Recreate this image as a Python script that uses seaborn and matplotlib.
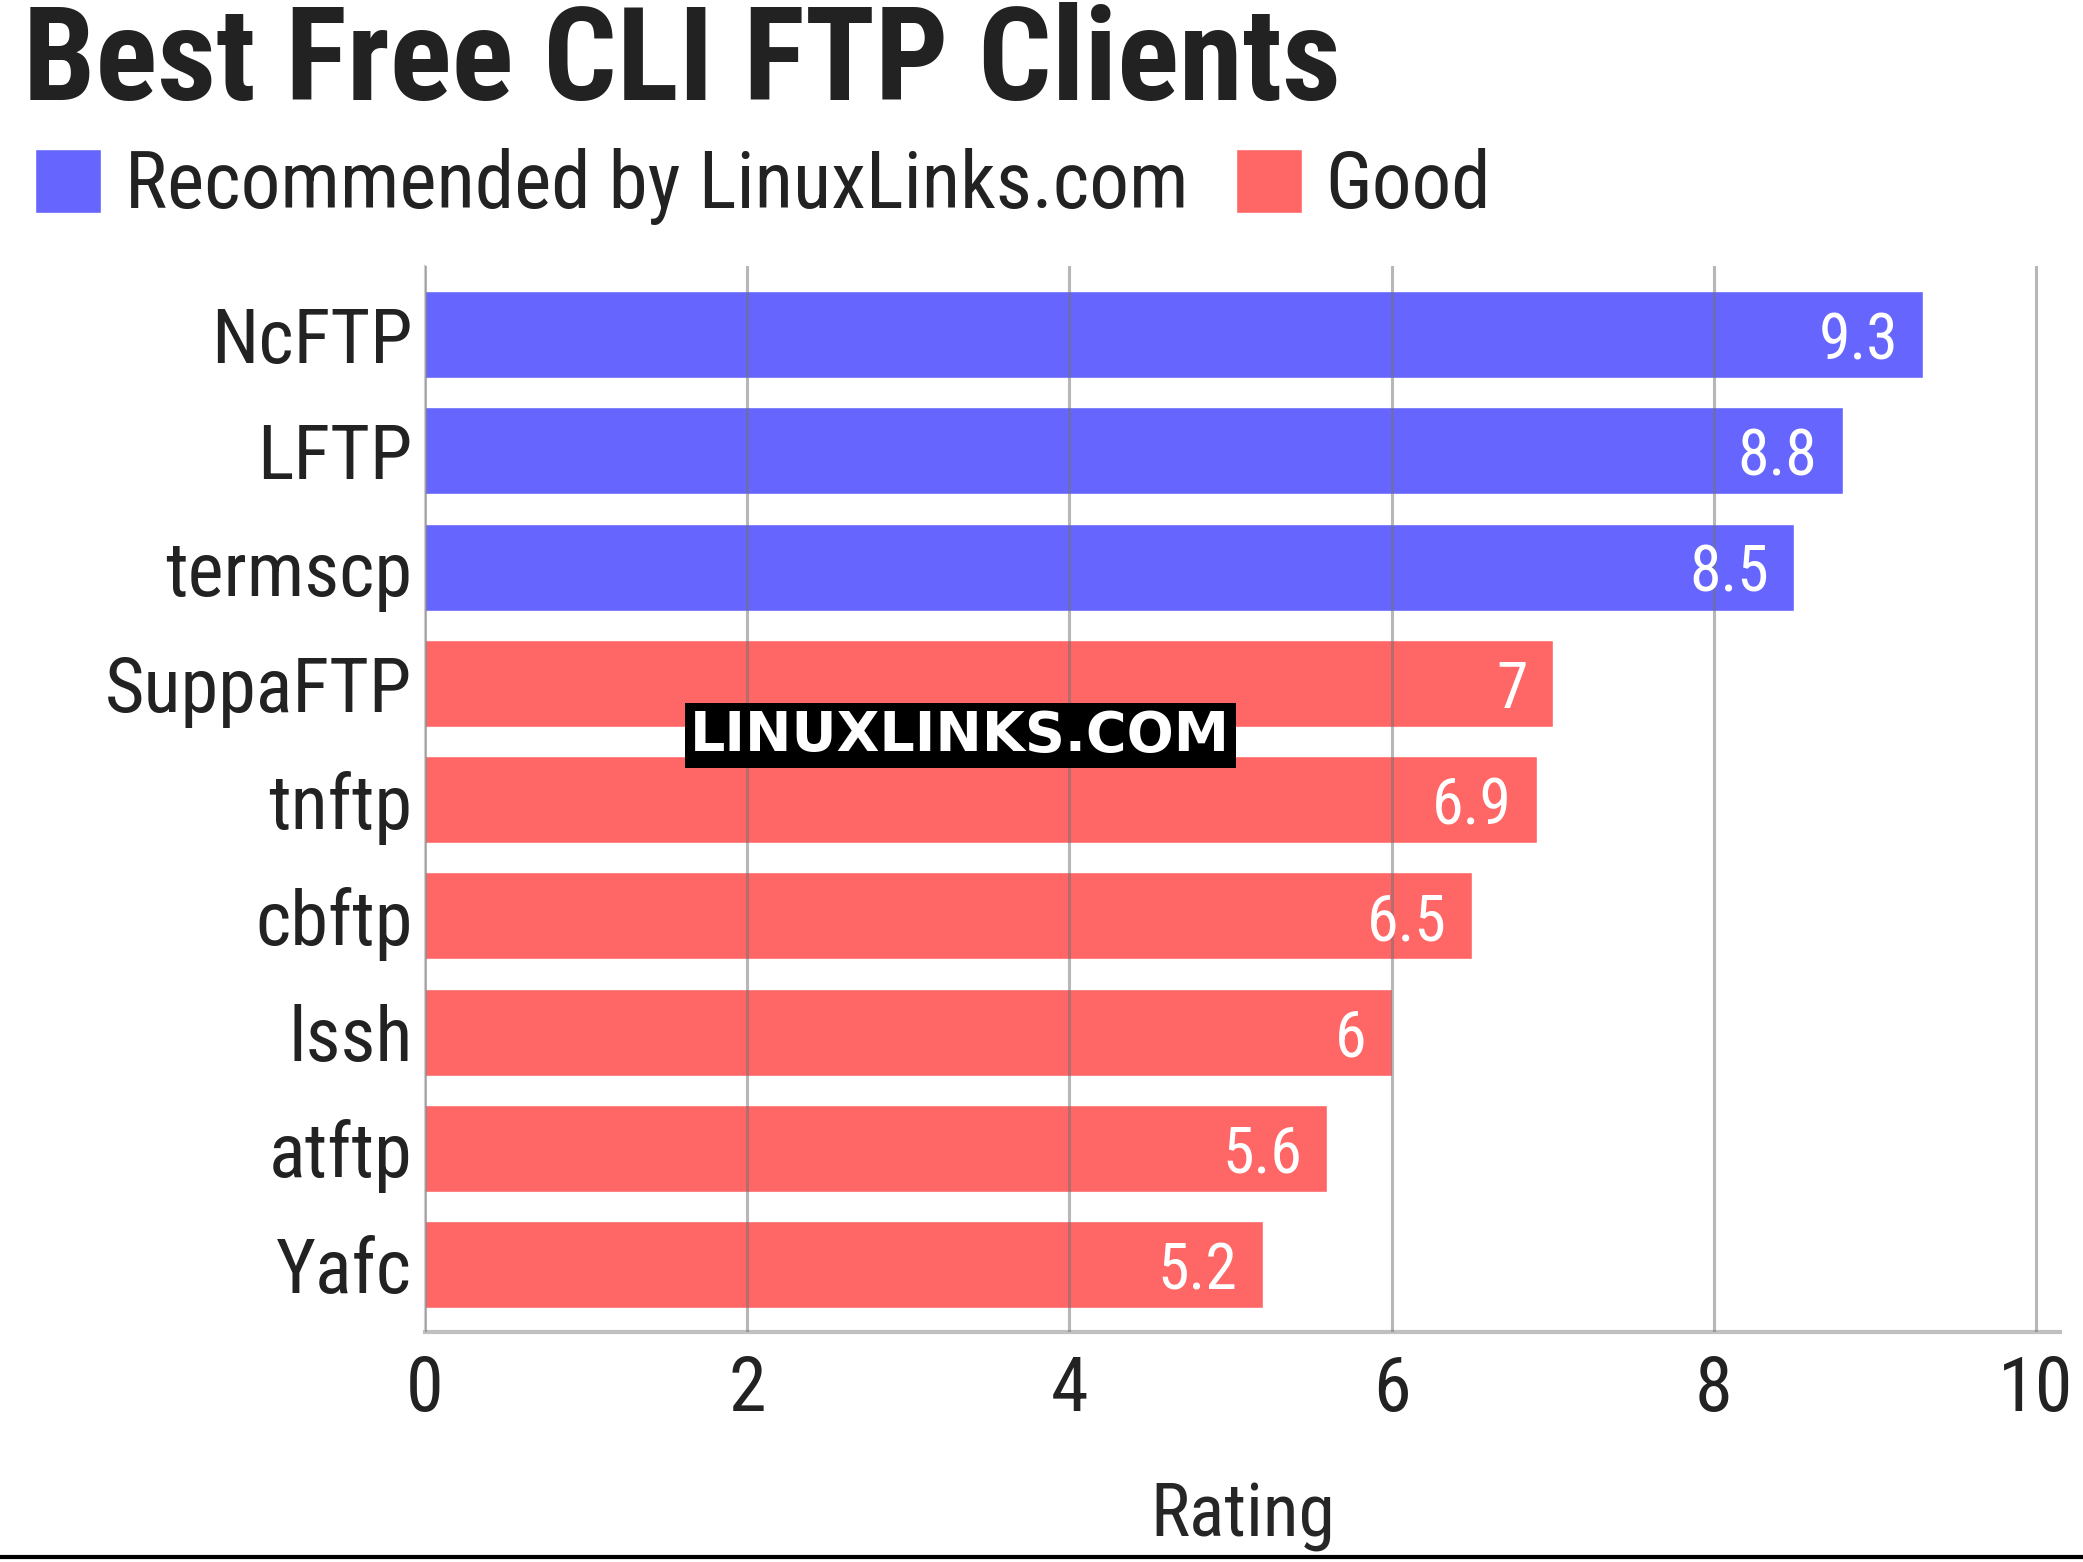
import pandas as pd
import matplotlib
matplotlib.use('Agg')
import matplotlib.pyplot as plt
import seaborn as sns

# chart data
clients = ['NcFTP', 'LFTP', 'termscp', 'SuppaFTP', 'tnftp', 'cbftp', 'lssh', 'atftp', 'Yafc']
ratings = [9.3, 8.8, 8.5, 7, 6.9, 6.5, 6, 5.6, 5.2]
groups = ['Recommended by LinuxLinks.com'] * 3 + ['Good'] * 6
palette = {'Recommended by LinuxLinks.com': '#6666FF', 'Good': '#FF6666'}

df = pd.DataFrame({'client': clients, 'rating': ratings, 'group': groups})

sns.set_style('white')
plt.rcParams['font.family'] = ['Roboto Condensed', 'Roboto', 'DejaVu Sans']
plt.rcParams['text.color'] = '#222222'

fig = plt.figure(figsize=(20.83, 15.62), dpi=100)
ax = fig.add_axes([0.204, 0.1472, 0.785, 0.6825])

sns.barplot(data=df, x='rating', y='client', hue='group', palette=palette,
            dodge=False, width=0.75, saturation=1, ax=ax)

for cont in ax.containers:
    vals = [f'{v:g}' for v in cont.datavalues]
    texts = ax.bar_label(cont, labels=vals, padding=-18, color='white', fontsize=46)
    for t in texts:
        t.set_ha('right')
        t.set_va('center_baseline')

ax.set_xlim(0, 10.15)
ax.set_ylim(len(clients) - 0.42, -0.59)
ax.set_xticks([0, 2, 4, 6, 8, 10])
ax.grid(axis='x', color='#707070', alpha=0.5, linewidth=2.2, zorder=5)
ax.set_axisbelow(False)
ax.tick_params(axis='both', length=0, labelsize=55, colors='#222222')
ax.tick_params(axis='x', pad=16)
ax.tick_params(axis='y', pad=9)
ax.set_xlabel('Rating', fontsize=53, labelpad=38)
ax.set_ylabel('')
for s in ['top', 'right']:
    ax.spines[s].set_visible(False)
ax.spines['bottom'].set_color('#c0c0c0')
ax.spines['bottom'].set_linewidth(3)
ax.spines['left'].set_color('#d0d0d0')
ax.spines['left'].set_linewidth(1.5)

sns.move_legend(ax, 'upper left', bbox_to_anchor=(0.017, 0.905),
                bbox_transform=fig.transFigure, ncol=2, frameon=False,
                title=None, fontsize=57, handlelength=0.83, handleheight=0.85,
                handletextpad=0.3, columnspacing=0.6, borderpad=0,
                borderaxespad=0)

fig.text(0.011, 1 - 100 / 1562, 'Best Free CLI FTP Clients', fontsize=93,
         fontweight='bold', ha='left', va='baseline', color='#222222')

fig.text(0.461, 0.529, 'LINUXLINKS.COM', fontsize=40, fontweight='bold',
         family='DejaVu Sans', color='white', ha='center', va='center', zorder=10,
         bbox=dict(facecolor='black', edgecolor='none', pad=4))

fig.add_artist(plt.Line2D([0, 1], [0.003, 0.003], color='black', linewidth=3,
                          transform=fig.transFigure))

fig.savefig('out.png', dpi=100)
